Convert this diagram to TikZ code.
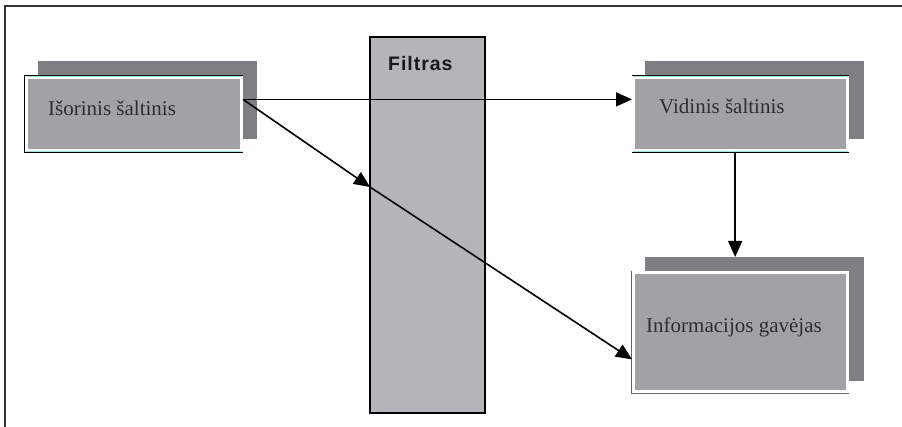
\documentclass[tikz,border=0pt]{standalone}
\usepackage{fontspec}
\setmainfont{Liberation Serif}
\newfontfamily\filtfont[LetterSpace=5]{Liberation Sans}
\usetikzlibrary{arrows.meta,calc}
\definecolor{shadowgray}{HTML}{7E7E83}
\definecolor{boxgray}{HTML}{A2A2A6}
\definecolor{filtgray}{HTML}{B5B5B9}
\definecolor{txtgray}{HTML}{2E2E2E}
\definecolor{edgecyan}{HTML}{9FE0E0}
\tikzset{
  shadowbox/.style={fill=shadowgray, draw=none, anchor=north west, inner sep=0pt, outer sep=0pt},
  mainbox/.style={fill=boxgray, draw=white, line width=3pt, anchor=north west, inner sep=0pt, outer sep=0pt},
  filtbox/.style={fill=filtgray, draw=black, line width=1.5pt, anchor=north west, inner sep=0pt, outer sep=0pt},
  lbl/.style={anchor=base west, inner sep=0pt, text=txtgray, font=\fontsize{21}{24}\selectfont},
  conn/.style={draw=black, line width=1.6pt, -{Triangle[length=16pt,width=14pt]}},
  frameline/.style={draw=black!80, line width=1.5pt}
}
\begin{document}
\begin{tikzpicture}[x=1pt,y=-1pt]
\useasboundingbox (0,0) rectangle (902,427);
% frame
\coordinate (ftr) at (902,6);
\coordinate (ftl) at (5,6);
\coordinate (fbl) at (5,427);
\draw[frameline] (ftr) -- (ftl) -- (fbl);
% shadows
\node[shadowbox, minimum width=219pt, minimum height=78pt] (isoS) at (38,61) {};
\node[shadowbox, minimum width=219pt, minimum height=78pt] (vidS) at (645,61) {};
\node[shadowbox, minimum width=219pt, minimum height=124pt] (gavS) at (645,257) {};
% main boxes
\node[mainbox, minimum width=215pt, minimum height=73pt] (iso) at (26.5,77.5) {};
\node[mainbox, minimum width=214pt, minimum height=73pt] (vid) at (633.5,77.5) {};
\node[mainbox, minimum width=214pt, minimum height=119pt] (gav) at (633.5,272.5) {};
% edges of boxes
\draw[edgecyan, line width=0.8pt] ($(iso.north west)+(-0.5,-0.9)$) -- ($(iso.north east)+(0.5,-0.9)$);
\draw[edgecyan, line width=0.8pt] ($(iso.south west)+(-0.5,0.9)$) -- ($(iso.south east)+(0.5,0.9)$);
\draw[black, line width=1.3pt] ($(iso.north east)+(1.5,-1.9)$) -- ($(iso.north west)+(-1.9,-1.9)$) -- ($(iso.south west)+(-1.9,1.9)$) -- ($(iso.south east)+(1.5,1.9)$);
\draw[edgecyan, line width=0.8pt] ($(vid.north west)+(-0.5,-0.9)$) -- ($(vid.north east)+(0.5,-0.9)$);
\draw[edgecyan, line width=0.8pt] ($(vid.south west)+(-0.5,0.9)$) -- ($(vid.south east)+(0.5,0.9)$);
\draw[black, line width=1.3pt] ($(vid.north east)+(1.5,-1.9)$) -- ($(vid.north west)+(-1.9,-1.9)$);
\draw[black, line width=1.3pt] ($(vid.south west)+(-1.9,1.9)$) -- ($(vid.south east)+(1.5,1.9)$);
\draw[black!60, line width=0.8pt] ($(gav.north west)+(-1.9,-1.5)$) -- ($(gav.south west)+(-1.9,1.9)$) -- ($(gav.south east)+(1.5,1.9)$);
% labels
\node[lbl] (isoT) at (48,116) {Išorinis šaltinis};
\node[lbl] (vidT) at (659,114) {Vidinis šaltinis};
\node[lbl] (gavT) at (646,333) {Informacijos gavėjas};
% filter
\node[filtbox, minimum width=115pt, minimum height=376pt] (filt) at (370,37) {};
\node[anchor=base west, inner sep=0pt, font={\filtfont\bfseries\fontsize{19.5}{22}\selectfont}, text=black!90] (filtT) at (388,71) {Filtras};
% connector points
\coordinate (isoOut) at ($(iso.north east)!0.30!(iso.south east)+(1.5,0)$);
\coordinate (vidIn) at ($(vid.north west)!0.30!(vid.south west)+(-1.5,0)$);
\coordinate (filtIn) at ($(filt.north west)!0.399!(filt.south west)$);
\coordinate (gavIn) at ($(gav.north west)!0.73!(gav.south west)+(-1.5,0)$);
\coordinate (vidOut) at ($(vid.south west)!0.475!(vid.south east)+(0,1.5)$);
\coordinate (gavTop) at (vidOut |- gavS.north);
% connectors
\draw[conn] (isoOut) -- (vidIn);
\draw[conn] (isoOut) -- (filtIn);
\draw[conn] (filtIn) -- (gavIn);
\draw[conn] (vidOut) -- (gavTop);
\end{tikzpicture}
\end{document}
